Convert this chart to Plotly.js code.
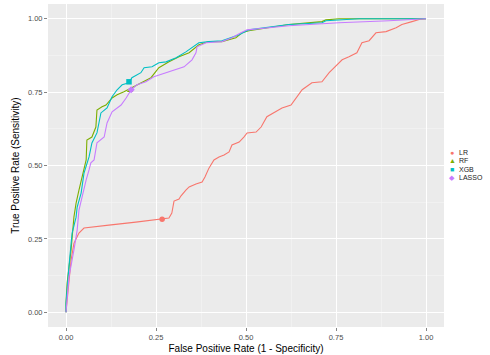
<!DOCTYPE html>
<html>
<head>
<meta charset="utf-8">
<script src="https://cdn.plot.ly/plotly-3.0.1.min.js"></script>
<style>html,body{margin:0;padding:0;background:#fff;}#chart{width:490px;height:355px;}</style>
</head>
<body>
<div id="chart"></div>
<script>
// ROC curves
const models = ["LR", "RF", "XGB", "LASSO"];
const colors = ["#F8766D", "#7CAE00", "#00BFC4", "#C77CFF"];
const symbols = ["circle", "triangle-up", "square", "diamond"];

const lrFpr = [0,0.003,0.008,0.014,0.022,0.036,0.050,0.069,0.119,0.194,0.267,0.286,0.294,0.300,0.314,0.319,0.333,0.342,0.361,0.378,0.386,0.397,0.411,0.425,0.439,0.453,0.461,0.481,0.494,0.503,0.528,0.542,0.558,0.583,0.600,0.625,0.639,0.656,0.683,0.711,0.731,0.767,0.786,0.808,0.822,0.842,0.861,0.889,0.917,0.933,0.961,0.981,1];
const lrTpr = [0,0.041,0.109,0.177,0.235,0.270,0.287,0.290,0.297,0.307,0.317,0.321,0.338,0.379,0.386,0.396,0.416,0.427,0.437,0.444,0.461,0.491,0.519,0.529,0.536,0.546,0.570,0.580,0.597,0.611,0.614,0.631,0.666,0.683,0.696,0.706,0.730,0.758,0.782,0.785,0.816,0.860,0.870,0.884,0.918,0.925,0.952,0.956,0.969,0.980,0.990,0.997,1];

const rfFpr = [0,0,0.003,0.014,0.022,0.028,0.036,0.044,0.056,0.058,0.072,0.083,0.086,0.100,0.111,0.128,0.142,0.161,0.183,0.211,0.236,0.258,0.286,0.314,0.342,0.369,0.397,0.433,0.472,0.489,0.508,0.619,0.711,0.722,0.758,1];
const rfTpr = [0,0.031,0.099,0.212,0.324,0.372,0.416,0.461,0.519,0.587,0.597,0.631,0.689,0.700,0.706,0.730,0.741,0.751,0.765,0.782,0.799,0.833,0.853,0.870,0.884,0.911,0.922,0.922,0.935,0.952,0.959,0.980,0.990,0.996,1,1];

const xgbFpr = [0,0,0.008,0.017,0.028,0.031,0.042,0.050,0.064,0.069,0.072,0.086,0.097,0.114,0.128,0.142,0.156,0.175,0.183,0.208,0.217,0.239,0.258,0.278,0.306,0.333,0.350,0.369,0.397,0.433,0.481,0.508,0.619,0.711,0.722,0.794,0.814,1];
const xgbTpr = [0,0.031,0.154,0.270,0.324,0.358,0.406,0.474,0.529,0.553,0.577,0.611,0.679,0.696,0.734,0.758,0.775,0.782,0.799,0.816,0.833,0.836,0.850,0.853,0.867,0.887,0.901,0.918,0.922,0.925,0.945,0.962,0.980,0.986,0.993,0.997,1,1];

const lassoFpr = [0,0.008,0.022,0.031,0.036,0.044,0.056,0.064,0.069,0.078,0.086,0.106,0.114,0.128,0.153,0.167,0.181,0.197,0.222,0.244,0.278,0.306,0.328,0.350,0.361,0.364,0.389,0.433,0.461,0.486,0.503,0.619,0.758,0.897,1];
const lassoTpr = [0,0.119,0.212,0.280,0.348,0.392,0.451,0.485,0.509,0.519,0.577,0.597,0.645,0.683,0.706,0.730,0.758,0.775,0.785,0.802,0.816,0.826,0.836,0.860,0.884,0.904,0.918,0.922,0.935,0.952,0.962,0.976,0.986,0.993,1];

// Optimal cut-off points
const optFpr = [0.267, 0.178, 0.175, 0.181];
const optTpr = [0.317, 0.755, 0.785, 0.758];

const curvesX = [lrFpr, rfFpr, xgbFpr, lassoFpr];
const curvesY = [lrTpr, rfTpr, xgbTpr, lassoTpr];

const tickVals = [0, 0.25, 0.5, 0.75, 1];
const tickText = ["0.00", "0.25", "0.50", "0.75", "1.00"];

const traces = [];
models.forEach((m, i) => {
  traces.push({
    type: "scatter", mode: "lines", x: curvesX[i], y: curvesY[i],
    line: {color: colors[i], width: 1.1}, showlegend: false, hoverinfo: "skip"
  });
});
models.forEach((m, i) => {
  traces.push({
    type: "scatter", mode: "markers", x: [optFpr[i]], y: [optTpr[i]],
    marker: {color: colors[i], symbol: symbols[i], size: 5.5}, showlegend: false, name: m
  });
});

// Manual compact legend (ggplot style)
const legendY = [0.539, 0.514, 0.489, 0.464];
const glyphs = ["\u25CF", "\u25B2", "\u25A0", "\u25C6"];
const annotations = [];
models.forEach((m, i) => {
  annotations.push({xref: "paper", yref: "paper", x: 1.021, y: legendY[i], text: glyphs[i],
    showarrow: false, xanchor: "center", yanchor: "middle", font: {family: "Liberation Sans, Arial", size: 7, color: colors[i]}});
  annotations.push({xref: "paper", yref: "paper", x: 1.032, y: legendY[i], text: m,
    showarrow: false, xanchor: "left", yanchor: "middle", font: {family: "Liberation Sans, Arial", size: 7, color: "#1a1a1a"}});
});

const axisCommon = {
  tickvals: tickVals, ticktext: tickText,
  showgrid: true, gridcolor: "#FFFFFF", gridwidth: 1,
  minor: {tickvals: [-0.125, 0.125, 0.375, 0.625, 0.875, 1.125], showgrid: true, gridcolor: "#F5F5F5", gridwidth: 0.6},
  zeroline: false, showline: false,
  ticks: "outside", ticklen: 3, tickcolor: "#333333", tickwidth: 0.6,
  tickfont: {family: "Liberation Sans, Arial", size: 7.5, color: "#4D4D4D"},
  fixedrange: true
};

const layout = {
  width: 490, height: 355,
  margin: {l: 48, r: 46, t: 4, b: 28},
  paper_bgcolor: "#FFFFFF", plot_bgcolor: "#EBEBEB",
  showlegend: false,
  xaxis: Object.assign({}, axisCommon, {
    range: [-0.05, 1.05],
    title: {text: "False Positive Rate (1 - Specificity)", font: {family: "Liberation Sans, Arial", size: 10, color: "#000"}, standoff: 3}
  }),
  yaxis: Object.assign({}, axisCommon, {
    range: [-0.05, 1.05],
    title: {text: "True Positive Rate (Sensitivity)", font: {family: "Liberation Sans, Arial", size: 10, color: "#000"}, standoff: 6}
  }),
  annotations: annotations
};

Plotly.newPlot("chart", traces, layout, {displayModeBar: false, staticPlot: true});
</script>
</body>
</html>
